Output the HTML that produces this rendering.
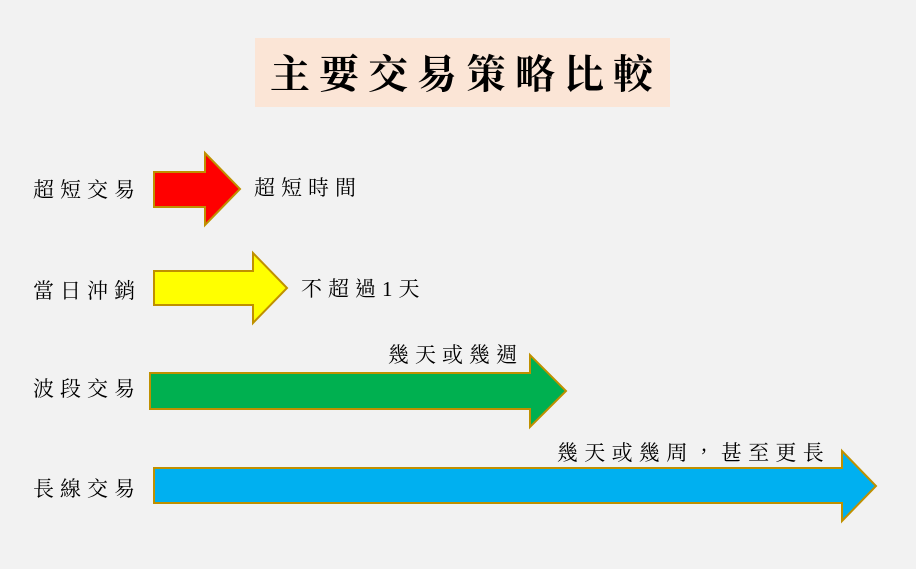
<!DOCTYPE html>
<html><head><meta charset="utf-8"><style>
body{margin:0;width:916px;height:569px;background:#f2f2f2;position:relative;overflow:hidden;font-family:"Liberation Serif","Noto Serif CJK TC","Noto Serif CJK SC",serif;color:#000}
.t{position:absolute;white-space:nowrap;font-size:21px;letter-spacing:6px;line-height:1}
#title{position:absolute;left:255px;top:38px;width:415px;height:69px;background:#fbe5d6}
#title span{position:absolute;left:15px;top:17px;font-size:40px;letter-spacing:9px;font-weight:bold;line-height:1;white-space:nowrap}
svg{position:absolute;left:0;top:0}
</style></head><body>
<div id="title"><span>主要交易策略比較</span></div>
<svg width="916" height="569">
<g stroke="#bf9000" stroke-width="2" stroke-linejoin="miter">
<polygon points="154,172 205,172 205,153 240,189 205,225 205,207 154,207" fill="#ff0000"/>
<polygon points="154,271 253,271 253,253 287,288 253,323 253,305 154,305" fill="#ffff00"/>
<polygon points="150,373 530,373 530,355 566,391 530,427 530,409 150,409" fill="#00b050"/>
<polygon points="154,468 842,468 842,451 876,486 842,521 842,503 154,503" fill="#00b0f0"/>
</g></svg>
<div class="t" style="left:33px;top:180px">超短交易</div>
<div class="t" style="left:254px;top:178px">超短時間</div>
<div class="t" style="left:33px;top:281px">當日沖銷</div>
<div class="t" style="left:301px;top:279px">不超過1天</div>
<div class="t" style="left:33px;top:379px">波段交易</div>
<div class="t" style="left:388px;top:345px">幾天或幾週</div>
<div class="t" style="left:33px;top:479px">長線交易</div>
<div class="t" style="left:557px;top:443px;letter-spacing:6.3px">幾天或幾周，甚至更長</div>
</body></html>
